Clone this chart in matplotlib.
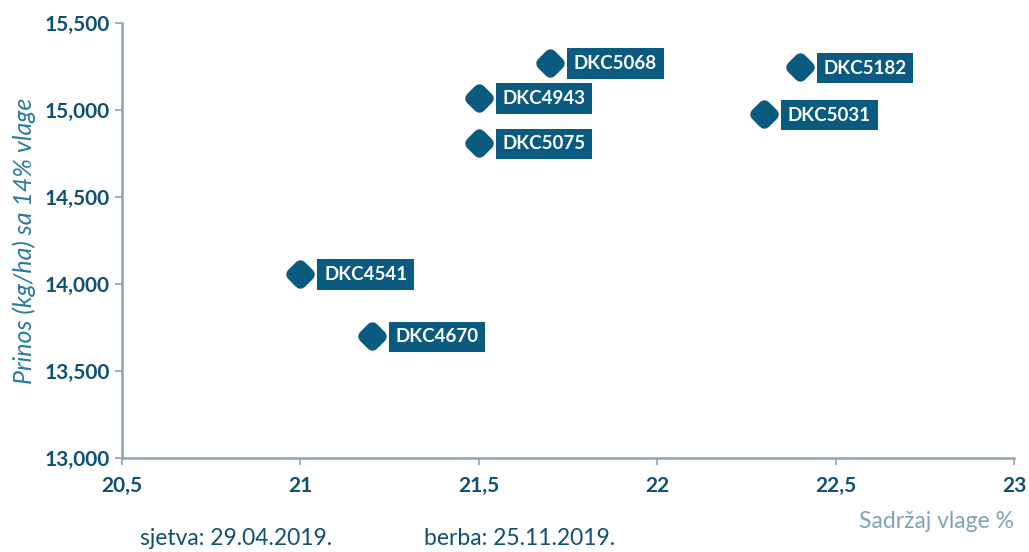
import matplotlib
matplotlib.use("Agg")
import matplotlib.pyplot as plt
from matplotlib.markers import MarkerStyle

hybrids = ["DKC4541", "DKC4670", "DKC4943", "DKC5075", "DKC5068", "DKC5182", "DKC5031"]
moisture = [21.0, 21.2, 21.5, 21.5, 21.7, 22.4, 22.3]
yield_kg = [14060, 13700, 15070, 14810, 15270, 15245, 14975]

x_ticks = [20.5, 21, 21.5, 22, 22.5, 23]
x_tick_labels = ["20,5", "21", "21,5", "22", "22,5", "23"]
y_ticks = [13000, 13500, 14000, 14500, 15000, 15500]
y_tick_labels = ["13,000", "13,500", "14,000", "14,500", "15,000", "15,500"]

DARK = "#0b5a80"
TICKC = "#0f5075"
AXC = "#8fa4ae"
LABC = "#2a7aa0"

plt.rcParams['font.family'] = ['Lato', 'DejaVu Sans']

fig = plt.figure(figsize=(10.29, 5.52), dpi=100)
ax = fig.add_axes([0.1186, 0.1703, 0.8668, 0.788])

mk = MarkerStyle('D', joinstyle='round')
ax.plot(moisture, yield_kg, linestyle='none', marker=mk, markersize=8,
        markerfacecolor=DARK, markeredgecolor=DARK, markeredgewidth=9, zorder=3)

for name, xv, yv in zip(hybrids, moisture, yield_kg):
    ax.annotate(name, (xv, yv), xytext=(17, -0.5), textcoords='offset points',
                ha='left', va='center', color='white', fontsize=13.5, fontweight='bold',
                bbox=dict(boxstyle='square,pad=0.36', fc=DARK, ec='none'), zorder=4)

ax.set_xlim(20.5, 23)
ax.set_ylim(13000, 15500)
ax.set_xticks(x_ticks)
ax.set_xticklabels(x_tick_labels)
ax.set_yticks(y_ticks)
ax.set_yticklabels(y_tick_labels)

for s in ['top', 'right']:
    ax.spines[s].set_visible(False)
for s in ['left', 'bottom']:
    ax.spines[s].set_color(AXC)
    ax.spines[s].set_linewidth(1.8)

ax.tick_params(axis='both', colors=AXC, length=5, width=1.2, labelcolor=TICKC,
               labelsize=15)
ax.tick_params(axis='x', pad=8)
ax.tick_params(axis='y', pad=4)
for lab in ax.get_xticklabels() + ax.get_yticklabels():
    lab.set_fontweight('bold')

ax.set_ylabel("Prinos (kg/ha) sa 14% vlage", fontsize=18, style='italic',
              color=LABC, labelpad=6)

fig.text(0.9854, 0.056, "Sadržaj vlage %", ha='right', va='center',
         fontsize=16.5, color="#7fa3b5")
fig.text(0.136, 0.024, "sjetva: 29.04.2019.", ha='left', va='center',
         fontsize=16.5, color=TICKC)
fig.text(0.412, 0.024, "berba: 25.11.2019.", ha='left', va='center',
         fontsize=16.5, color=TICKC)

fig.savefig("out.png", dpi=100)
